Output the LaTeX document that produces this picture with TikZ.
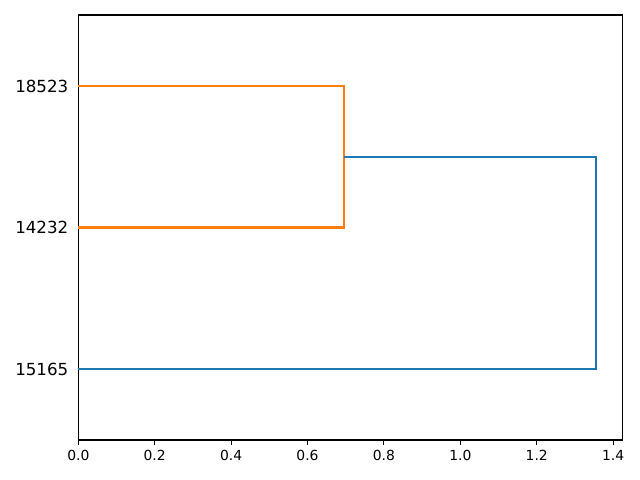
\documentclass[tikz,border=0pt]{standalone}
\usepackage{fontspec}
\setmainfont{DejaVu Sans}
\usepackage{tikz}
\usetikzlibrary{positioning}

\definecolor{mplblue}{HTML}{1F77B4}
\definecolor{mplorange}{HTML}{FF7F0E}

\begin{document}
\begin{tikzpicture}[
  x=275.04pt, y=10.2pt,
  frame/.style={draw=black, line width=0.8pt, line cap=rect},
  tck/.style={draw=black, line width=0.8pt},
  ticklbl/.style={font=\fontsize{10}{12}\selectfont, inner sep=0pt, anchor=north},
  leaflbl/.style={font=\fontsize{12}{14}\selectfont, inner sep=0pt, text depth=0pt, anchor=east},
  linkA/.style={draw=mplorange, line width=1.5pt},
  linkB/.style={draw=mplblue, line width=1.5pt},
]
\useasboundingbox (-0.205, -2.8235) rectangle (1.4704, 31.059);

% ---- Axes ------------------------------------------------------------------
\draw[frame] (0, 0) rectangle (1.425, 30);

% ---- x ticks ---------------------------------------------------------------
\foreach \v in {0.0, 0.2, 0.4, 0.6, 0.8, 1.0, 1.2, 1.4} {
  \draw[tck] (\v, 0) -- ++(0, -3.5pt);
  \node[ticklbl] (xt\v) at ([yshift=-7pt]\v, 0) {\v};
}

% ---- Leaves ----------------------------------------------------------------
\node[leaflbl] (l18523) at ([xshift=-7pt]0, 25) {18523};
\node[leaflbl] (l14232) at ([xshift=-7pt]0, 15) {14232};
\node[leaflbl] (l15165) at ([xshift=-7pt]0, 5)  {15165};

% ---- Links -----------------------------------------------------------------
\coordinate (a1) at (0, 25);
\coordinate (a2) at (0, 15);
\coordinate (b1) at (0, 5);
\coordinate (ma) at (0.6956, 20);
\coordinate (mb) at (1.354, 12.5);

\draw[linkA] (a1) -| (ma) |- (a2);
\draw[linkB] (ma) -| (mb) |- (b1);

\end{tikzpicture}
\end{document}
